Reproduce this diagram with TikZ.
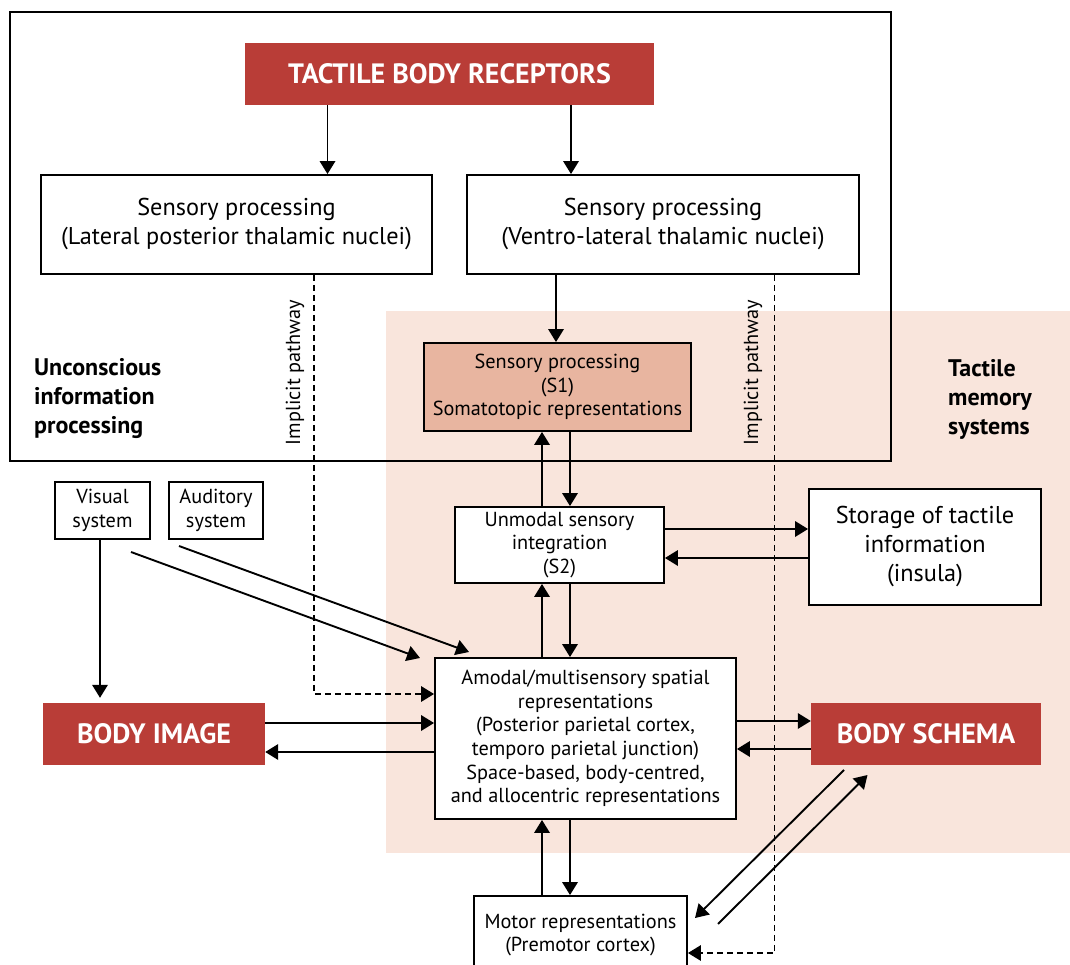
\documentclass[tikz,border=0pt]{standalone}
\usepackage{fontspec}
\setmainfont{PT Sans}
\usetikzlibrary{arrows.meta}
\definecolor{tred}{HTML}{B93D37}
\definecolor{tpink}{HTML}{F9E5DC}
\definecolor{tsalmon}{HTML}{E8B5A0}
\begin{document}
\begin{tikzpicture}[x=1pt,y=-1pt,
  box/.style={draw, line width=1.9pt, fill=white, inner sep=0pt, align=center},
  bigtxt/.style={font=\fontsize{24.3}{29}\selectfont},
  smalltxt/.style={font=\fontsize{20.3}{23.7}\selectfont},
  redbox/.style={fill=tred, text=white, inner sep=0pt, align=center, font=\fontsize{28}{32}\selectfont\bfseries},
  lbl/.style={align=left, inner sep=0pt, font=\fontsize{24}{29}\selectfont\bfseries},
  arr/.style={line width=1.9pt, -{Triangle[length=13pt,width=15.5pt]}},
  darr/.style={line width=1.6pt, dash pattern=on 6pt off 4pt, -{Triangle[length=13pt,width=15.5pt]}}]
\useasboundingbox (0,0) rectangle (1070,965);
\clip (0,0) rectangle (1070,965);
\fill[white] (0,0) rectangle (1070,965);
% background region
\fill[tpink] (386,311) rectangle (1070,853);
% outer frame
\draw[line width=1.9pt] (10,12) rectangle (891,461);

% nodes
\node[redbox, minimum width=409pt, minimum height=62pt] (tbr) at (449.5,74) {TACTILE BODY RECEPTORS};
\node[box, bigtxt, minimum width=391pt, minimum height=99pt] (lpt) at (236.5,224.5) {Sensory processing\\(Lateral posterior thalamic nuclei)};
\node[box, bigtxt, minimum width=392pt, minimum height=99pt] (vlt) at (663,224.5) {Sensory processing\\(Ventro-lateral thalamic nuclei)};
\node[box, smalltxt, fill=tsalmon, minimum width=267pt, minimum height=88pt] (s1) at (557.5,387) {Sensory processing\\(S1)\\Somatotopic representations};
\node[box, smalltxt, minimum width=209pt, minimum height=76pt] (s2) at (559.5,545) {Unmodal sensory\\integration\\(S2)};
\node[box, bigtxt, minimum width=232pt, minimum height=116pt] (stor) at (925,547) {Storage of tactile\\information\\(insula)};
\node[box, smalltxt, minimum width=95pt, minimum height=57pt] (vis) at (102.5,510.5) {Visual\\system};
\node[box, smalltxt, minimum width=94pt, minimum height=57pt] (aud) at (216,510.5) {Auditory\\system};
\node[redbox, minimum width=222pt, minimum height=62pt] (bimg) at (154,734) {BODY IMAGE};
\node[box, smalltxt, minimum width=301pt, minimum height=161pt] (amod) at (585.5,738.5) {Amodal/multisensory spatial\\representations\\(Posterior parietal cortex,\\temporo parietal junction)\\Space-based, body-centred,\\and allocentric representations};
\node[redbox, minimum width=230pt, minimum height=62pt] (bsch) at (926,734) {BODY SCHEMA};
\node[box, smalltxt, minimum width=213pt, minimum height=78pt] (motor) at (580.5,935) {Motor representations\\(Premotor cortex)};

% labels
\node[rotate=90, smalltxt, inner sep=0pt] (ipl) at (295,372.5) {Implicit pathway};
\node[rotate=90, smalltxt, inner sep=0pt] (ipr) at (753,372.5) {Implicit pathway};
\node[lbl, anchor=west] (uip) at (34,399) {Unconscious\\information\\processing};
\node[lbl, anchor=west] (tms) at (948,399) {Tactile\\memory\\systems};

% helper coordinates
\coordinate (xL) at (327.5,0);
\coordinate (xR) at (571,0);
\coordinate (xV) at (556,0);
\coordinate (xU) at (542,0);
\coordinate (xD) at (570,0);
\coordinate (xVis) at (100,0);
\coordinate (xIL) at (314,0);
\coordinate (xIR) at (774.5,0);
\coordinate (yS2a) at (0,529);
\coordinate (yS2b) at (0,558);
\coordinate (yBIa) at (0,723);
\coordinate (yBIb) at (0,752);
\coordinate (yBSa) at (0,721);
\coordinate (yBSb) at (0,749);
\coordinate (yIL) at (0,694);
\coordinate (yIR) at (0,953);
\coordinate (v1) at (131,552);
\coordinate (v2) at (420,658);
\coordinate (a1) at (179,546);
\coordinate (a2) at (469,652);
\coordinate (b1) at (844,770);
\coordinate (m1) at (695,918);
\coordinate (m2) at (718,924);
\coordinate (b2) at (867.5,775);

% dashed implicit pathways
\draw[darr] (lpt.south -| xIL) -- (xIL |- yIL) -- (amod.west |- yIL);
\draw[darr] (vlt.south -| xIR) -- (xIR |- yIR) -- (motor.east |- yIR);

% connectors
\draw[arr] (tbr.south -| xL) -- (lpt.north -| xL);
\draw[arr] (tbr.south -| xR) -- (vlt.north -| xR);
\draw[arr] (vlt.south -| xV) -- (s1.north -| xV);
\draw[arr] (s2.north -| xU) -- (s1.south -| xU);
\draw[arr] (s1.south -| xD) -- (s2.north -| xD);
\draw[arr] (s2.east |- yS2a) -- (stor.west |- yS2a);
\draw[arr] (stor.west |- yS2b) -- (s2.east |- yS2b);
\draw[arr] (amod.north -| xU) -- (s2.south -| xU);
\draw[arr] (s2.south -| xD) -- (amod.north -| xD);
\draw[arr] (motor.north -| xU) -- (amod.south -| xU);
\draw[arr] (amod.south -| xD) -- (motor.north -| xD);
\draw[arr, shorten >=5pt] (vis.south -| xVis) -- (bimg.north -| xVis);
\draw[arr] (bimg.east |- yBIa) -- (amod.west |- yBIa);
\draw[arr] (amod.west |- yBIb) -- (bimg.east |- yBIb);
\draw[arr] (amod.east |- yBSa) -- (bsch.west |- yBSa);
\draw[arr] (bsch.west |- yBSb) -- (amod.east |- yBSb);
\draw[arr] (v1) -- (v2);
\draw[arr] (a1) -- (a2);
\draw[arr] (b1) -- (m1);
\draw[arr] (m2) -- (b2);
\end{tikzpicture}
\end{document}
